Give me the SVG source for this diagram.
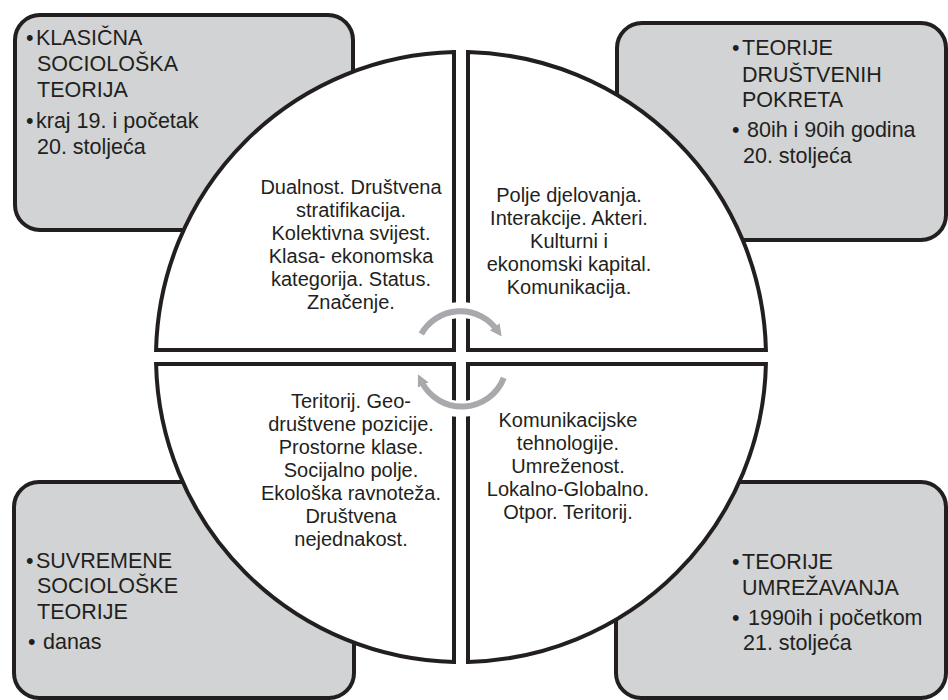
<svg xmlns="http://www.w3.org/2000/svg" width="948" height="700" viewBox="0 0 948 700">
<style>
.box{fill:#d1d3d4;stroke:#231f20;stroke-width:4}
.quad{fill:#fff;stroke:#231f20;stroke-width:4;stroke-linejoin:miter}
.qt{font-family:"Liberation Sans",Arial,sans-serif;font-size:20px;fill:#231f20;text-anchor:middle}
.bt{font-family:"Liberation Sans",Arial,sans-serif;font-size:21.5px;fill:#231f20}
.halo{fill:none;stroke:#fff;stroke-width:16}
.arc{fill:none;stroke:#a7a9ac;stroke-width:6}
</style>
<defs>
<marker id="ah" markerUnits="userSpaceOnUse" markerWidth="14" markerHeight="14" refX="4" refY="7" orient="auto">
<path d="M0,1 L12,7 L0,13 Z" fill="#a7a9ac"/>
</marker>
</defs>

<g id="box-tl">
<rect class="box" x="15" y="15" width="338" height="215" rx="25"/>
<text class="bt"><tspan x="26" y="45">•</tspan><tspan x="36" y="45">KLASIČNA</tspan><tspan x="37" y="71">SOCIOLOŠKA</tspan><tspan x="37" y="97">TEORIJA</tspan><tspan x="26" y="128">•</tspan><tspan x="36" y="128">kraj 19. i početak</tspan><tspan x="37" y="154">20. stoljeća</tspan></text>
</g>
<g id="box-tr">
<rect class="box" x="617" y="23" width="329" height="217" rx="25"/>
<text class="bt"><tspan x="732" y="55">•</tspan><tspan x="742" y="55">TEORIJE</tspan><tspan x="742" y="82">DRUŠTVENIH</tspan><tspan x="742" y="107">POKRETA</tspan><tspan x="732" y="137">•</tspan><tspan x="747" y="137">80ih i 90ih godina</tspan><tspan x="743" y="163">20. stoljeća</tspan></text>
</g>
<g id="box-bl">
<rect class="box" x="14" y="482" width="340" height="216" rx="25"/>
<text class="bt"><tspan x="26" y="568">•</tspan><tspan x="36" y="568">SUVREMENE</tspan><tspan x="37" y="593">SOCIOLOŠKE</tspan><tspan x="37" y="619">TEORIJE</tspan><tspan x="28" y="649">•</tspan><tspan x="43" y="649">danas</tspan></text>
</g>
<g id="box-br">
<rect class="box" x="616" y="482" width="330" height="216" rx="25"/>
<text class="bt"><tspan x="732" y="569">•</tspan><tspan x="742" y="569">TEORIJE</tspan><tspan x="742" y="595">UMREŽAVANJA</tspan><tspan x="732" y="625">•</tspan><tspan x="748" y="625">1990ih i početkom</tspan><tspan x="743" y="650">21. stoljeća</tspan></text>
</g>

<g id="quad-tl">
<path class="quad" d="M454,350 L454,52.08 A305,305 0 0 0 156.08,350 Z"/>
<text class="qt"><tspan x="351" y="194">Dualnost. Društvena</tspan><tspan x="351" y="217">stratifikacija.</tspan><tspan x="351" y="240">Kolektivna svijest.</tspan><tspan x="351" y="263">Klasa- ekonomska</tspan><tspan x="351" y="286">kategorija. Status.</tspan><tspan x="351" y="309">Značenje.</tspan></text>
</g>
<g id="quad-tr">
<path class="quad" d="M468,350 L765.92,350 A305,305 0 0 0 468,52.08 Z"/>
<text class="qt"><tspan x="569" y="202">Polje djelovanja.</tspan><tspan x="569" y="225">Interakcije. Akteri.</tspan><tspan x="569" y="248">Kulturni i</tspan><tspan x="569" y="271">ekonomski kapital.</tspan><tspan x="569" y="294">Komunikacija.</tspan></text>
</g>
<g id="quad-bl">
<path class="quad" d="M454,364 L156.08,364 A305,305 0 0 0 454,661.92 Z"/>
<text class="qt"><tspan x="351" y="408">Teritorij. Geo-</tspan><tspan x="351" y="431">društvene pozicije.</tspan><tspan x="351" y="454">Prostorne klase.</tspan><tspan x="351" y="477">Socijalno polje.</tspan><tspan x="351" y="500">Ekološka ravnoteža.</tspan><tspan x="351" y="523">Društvena</tspan><tspan x="351" y="546">nejednakost.</tspan></text>
</g>
<g id="quad-br">
<path class="quad" d="M468,364 L468,661.92 A305,305 0 0 0 765.92,364 Z"/>
<text class="qt"><tspan x="568" y="427">Komunikacijske</tspan><tspan x="568" y="450">tehnologije.</tspan><tspan x="568" y="473">Umreženost.</tspan><tspan x="568" y="496">Lokalno-Globalno.</tspan><tspan x="568" y="519">Otpor. Teritorij.</tspan></text>
</g>

<g id="connectors">
<path class="halo" d="M421.3,333.9 A45,45 0 0 1 499.2,331.2"/>
<path class="halo" d="M503.8,377.9 A45,45 0 0 1 419,380.1"/>
<path class="arc" d="M421.3,333.9 A45,45 0 0 1 497,330" marker-end="url(#ah)"/>
<path class="arc" d="M503.8,377.9 A45,45 0 0 1 421.5,381.5" marker-end="url(#ah)"/>
</g>
</svg>
